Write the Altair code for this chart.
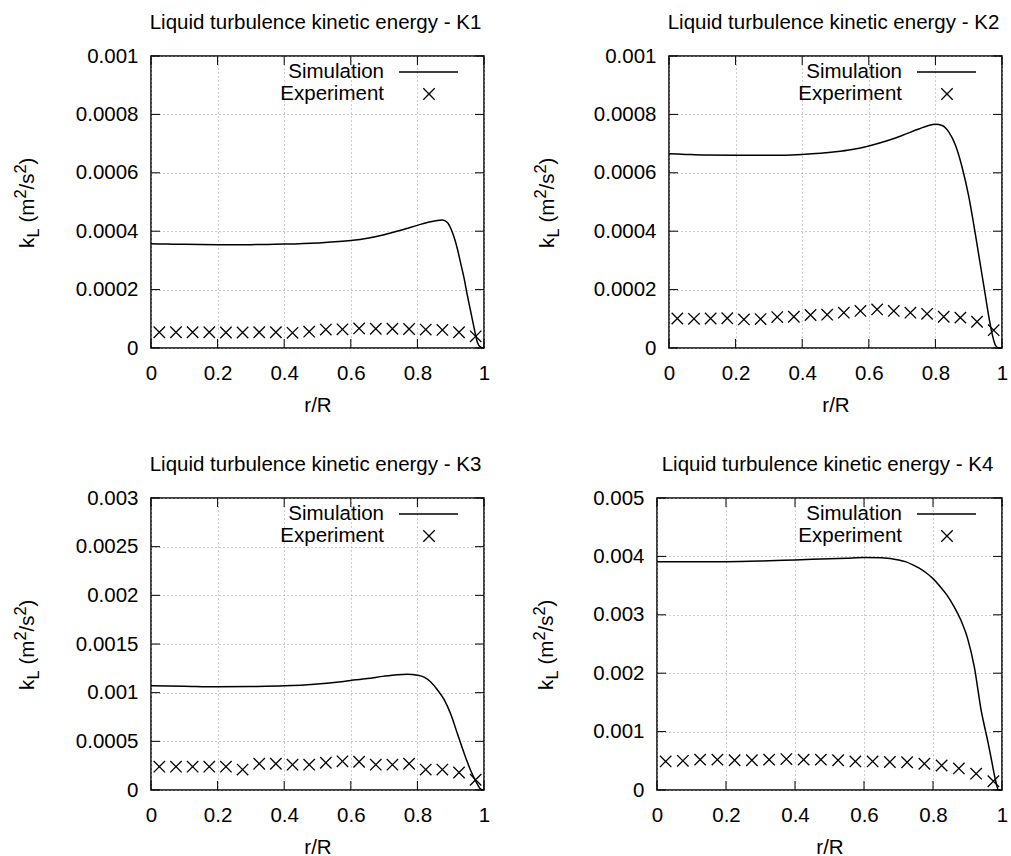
import altair as alt
import pandas as pd

FONT = "Liberation Sans"
FS = 20.5

# ---------------- data ----------------
x_ticks = [0, 0.2, 0.4, 0.6, 0.8, 1.0]
r_exp = [0.025, 0.075, 0.125, 0.175, 0.225, 0.275, 0.325, 0.375, 0.425, 0.475,
         0.525, 0.575, 0.625, 0.675, 0.725, 0.775, 0.825, 0.875, 0.925, 0.975]

k1_r = [0, 0.05, 0.1, 0.2, 0.3, 0.4, 0.5, 0.6, 0.65, 0.7, 0.75, 0.8, 0.83, 0.86, 0.875,
        0.89, 0.9, 0.91, 0.92, 0.93, 0.94, 0.95, 0.96, 0.97, 0.98, 0.99, 1.0]
k1_k = [3.57e-4, 3.56e-4, 3.55e-4, 3.54e-4, 3.54e-4, 3.56e-4, 3.60e-4, 3.68e-4, 3.76e-4,
        3.88e-4, 4.03e-4, 4.20e-4, 4.30e-4, 4.37e-4, 4.38e-4, 4.30e-4, 4.10e-4, 3.80e-4,
        3.40e-4, 2.90e-4, 2.40e-4, 1.80e-4, 1.25e-4, 0.70e-4, 0.20e-4, 0.03e-4, 0.0]
k1_exp = [5.4e-5, 5.4e-5, 5.4e-5, 5.4e-5, 5.3e-5, 5.3e-5, 5.4e-5, 5.4e-5, 5.2e-5, 5.6e-5,
          6.3e-5, 6.4e-5, 6.7e-5, 6.6e-5, 6.6e-5, 6.5e-5, 6.3e-5, 6.2e-5, 5.4e-5, 4.0e-5]

k2_r = [0, 0.05, 0.1, 0.2, 0.3, 0.4, 0.5, 0.55, 0.6, 0.65, 0.7, 0.75, 0.78, 0.8, 0.82,
        0.84, 0.86, 0.88, 0.9, 0.92, 0.94, 0.95, 0.96, 0.97, 0.98, 0.99, 1.0]
k2_k = [6.65e-4, 6.63e-4, 6.61e-4, 6.60e-4, 6.60e-4, 6.63e-4, 6.72e-4, 6.80e-4, 6.92e-4,
        7.08e-4, 7.28e-4, 7.50e-4, 7.62e-4, 7.66e-4, 7.62e-4, 7.40e-4, 6.95e-4, 6.20e-4,
        5.20e-4, 3.90e-4, 2.50e-4, 1.80e-4, 1.10e-4, 0.50e-4, 0.10e-4, 0.0, 0.0]
k2_exp = [1.01e-4, 1.00e-4, 1.01e-4, 1.02e-4, 0.98e-4, 0.99e-4, 1.06e-4, 1.07e-4, 1.13e-4,
          1.14e-4, 1.21e-4, 1.27e-4, 1.32e-4, 1.27e-4, 1.21e-4, 1.17e-4, 1.07e-4, 1.04e-4,
          0.90e-4, 0.61e-4]

k3_r = [0, 0.1, 0.2, 0.3, 0.4, 0.5, 0.55, 0.6, 0.65, 0.7, 0.74, 0.77, 0.8, 0.82, 0.84,
        0.86, 0.88, 0.9, 0.92, 0.94, 0.96, 0.98, 0.99, 1.0]
k3_k = [1.07e-3, 1.065e-3, 1.06e-3, 1.063e-3, 1.07e-3, 1.09e-3, 1.105e-3, 1.125e-3,
        1.145e-3, 1.17e-3, 1.185e-3, 1.19e-3, 1.18e-3, 1.16e-3, 1.11e-3, 1.03e-3, 0.93e-3,
        0.78e-3, 0.58e-3, 0.38e-3, 0.20e-3, 0.06e-3, 0.01e-3, 0.0]
k3_exp = [2.4e-4, 2.4e-4, 2.4e-4, 2.4e-4, 2.4e-4, 2.1e-4, 2.7e-4, 2.7e-4, 2.6e-4, 2.6e-4,
          2.8e-4, 2.95e-4, 2.9e-4, 2.6e-4, 2.6e-4, 2.7e-4, 2.1e-4, 2.1e-4, 1.8e-4, 1.05e-4]

k4_r = [0, 0.1, 0.2, 0.3, 0.4, 0.5, 0.55, 0.6, 0.65, 0.7, 0.72, 0.74, 0.76, 0.78, 0.8,
        0.82, 0.84, 0.86, 0.88, 0.9, 0.92, 0.94, 0.95, 0.96, 0.97, 0.98, 0.99, 1.0]
k4_k = [3.91e-3, 3.91e-3, 3.91e-3, 3.92e-3, 3.94e-3, 3.96e-3, 3.97e-3, 3.98e-3, 3.975e-3,
        3.94e-3, 3.91e-3, 3.86e-3, 3.80e-3, 3.72e-3, 3.62e-3, 3.49e-3, 3.34e-3, 3.15e-3,
        2.92e-3, 2.60e-3, 2.10e-3, 1.35e-3, 1.07e-3, 0.80e-3, 0.50e-3, 0.20e-3, 0.0, 0.0]
k4_exp = [4.9e-4, 5.0e-4, 5.2e-4, 5.2e-4, 5.1e-4, 5.1e-4, 5.2e-4, 5.3e-4, 5.2e-4, 5.2e-4,
          5.1e-4, 4.9e-4, 4.9e-4, 4.8e-4, 4.75e-4, 4.5e-4, 4.2e-4, 3.7e-4, 2.8e-4, 1.5e-4]

y_ticks_1 = [0, 0.0002, 0.0004, 0.0006, 0.0008, 0.001]
y_ticks_3 = [0, 0.0005, 0.001, 0.0015, 0.002, 0.0025, 0.003]
y_ticks_4 = [0, 0.001, 0.002, 0.003, 0.004, 0.005]

titles = ["Liquid turbulence kinetic energy - K1", "Liquid turbulence kinetic energy - K2",
          "Liquid turbulence kinetic energy - K3", "Liquid turbulence kinetic energy - K4"]
legend_labels = ["Simulation", "Experiment"]

XPATH = "M-1,-1L1,1M-1,1L1,-1"
ONE = pd.DataFrame({"a": [0]})


def txt(text, x, y, size=FS, angle=0, align="left", baseline="alphabetic"):
    return alt.Chart(ONE).mark_text(
        text=text, font=FONT, fontSize=size, angle=angle, align=align,
        baseline=baseline, color="black"
    ).encode(x=alt.value(x), y=alt.value(y))


def panel(title, sim_r, sim_k, exp_k, ymax, yticks, W, H, ytx):
    sim = pd.DataFrame({"r": sim_r, "k": sim_k})
    exp = pd.DataFrame({"r": r_exp, "k": exp_k})
    xs = alt.Scale(domain=[0, 1], nice=False)
    ys = alt.Scale(domain=[0, ymax], nice=False, zero=True)
    common = dict(grid=True, ticks=False, domain=False, labelFont=FONT, labelFontSize=FS,
                  labelColor="black", gridColor="#9a9a9a", gridDash=[1, 3], gridWidth=1,
                  labelOverlap=False)
    xax = alt.Axis(values=x_ticks, format="~g", title="r/R", titleFont=FONT, titleFontSize=FS,
                   titleFontWeight="normal", titleColor="black", labelPadding=15,
                   titlePadding=12, labelFlush=False, **common)
    yax = alt.Axis(values=yticks, format="~g", title=None, labelPadding=13, **common)
    X = alt.X("r:Q", scale=xs, axis=xax)
    Y = alt.Y("k:Q", scale=ys, axis=yax)

    line = alt.Chart(sim).mark_line(color="black", strokeWidth=1.5,
                                    interpolate="monotone").encode(x=X, y=Y)
    pts = alt.Chart(exp).mark_point(shape=XPATH, size=130, color="black", filled=False,
                                    strokeWidth=1.3, opacity=1).encode(x=X, y=Y)
    xt = pd.DataFrame({"r": x_ticks})
    yt = pd.DataFrame({"k": yticks})
    tick = dict(color="black", strokeWidth=1)
    xt_b = alt.Chart(xt).mark_rule(**tick).encode(x=X, y=alt.value(H), y2=alt.value(H - 9))
    xt_t = alt.Chart(xt).mark_rule(**tick).encode(x=X, y=alt.value(0), y2=alt.value(9))
    yt_l = alt.Chart(yt).mark_rule(**tick).encode(y=Y, x=alt.value(0), x2=alt.value(9))
    yt_r = alt.Chart(yt).mark_rule(**tick).encode(y=Y, x=alt.value(W), x2=alt.value(W - 9))

    # panel title
    ttl = txt(title, W / 2 - 2, -27, align="center")

    # legend (gnuplot style: label then sample)
    leg = [
        txt(legend_labels[0], W - 100, 16, align="right", baseline="middle"),
        txt(legend_labels[1], W - 100, 38, align="right", baseline="middle"),
        alt.Chart(ONE).mark_rule(color="black", strokeWidth=1.5).encode(
            x=alt.value(W - 85), x2=alt.value(W - 26), y=alt.value(16)),
        alt.Chart(ONE).mark_point(shape=XPATH, size=130, color="black", filled=False,
                                  strokeWidth=1.3, opacity=1).encode(
            x=alt.value(W - 55), y=alt.value(38)),
    ]

    # y-axis title  k_L (m^2/s^2), rotated, built from pieces
    c = H / 2
    yb = ytx
    ytitle = [
        txt("k", yb, c + 46, angle=270),
        txt("L", yb + 5, c + 35.5, size=16.5, angle=270),
        txt("(m", yb, c + 20.5, angle=270),
        txt("2", yb - 8, c - 3.5, size=16.5, angle=270),
        txt("/s", yb, c - 12.5, angle=270),
        txt("2", yb - 8, c - 28.5, size=16.5, angle=270),
        txt(")", yb, c - 37.5, angle=270),
    ]

    return alt.layer(line, pts, xt_b, xt_t, yt_l, yt_r, ttl, *leg, *ytitle).properties(
        width=W, height=H)


k1 = panel(titles[0], k1_r, k1_k, k1_exp, 0.001, y_ticks_1, 333, 292, -117)
k2 = panel(titles[1], k2_r, k2_k, k2_exp, 0.001, y_ticks_1, 333, 292, -115)
k3 = panel(titles[2], k3_r, k3_k, k3_exp, 0.003, y_ticks_3, 333, 292, -117)
k4 = panel(titles[3], k4_r, k4_k, k4_exp, 0.005, y_ticks_4, 345, 292, -104)

row1 = alt.hconcat(k1, k2, spacing=185, bounds="flush")
row2 = alt.hconcat(k3, k4, spacing=173, bounds="flush")

chart = alt.vconcat(row1, row2, spacing=37).properties(
    padding={"left": 12, "top": 12, "right": 0, "bottom": 0},
    background="white",
).configure_view(stroke="black", strokeWidth=1.5)

chart.save("out.html", embed_options={"renderer": "svg", "actions": False})
